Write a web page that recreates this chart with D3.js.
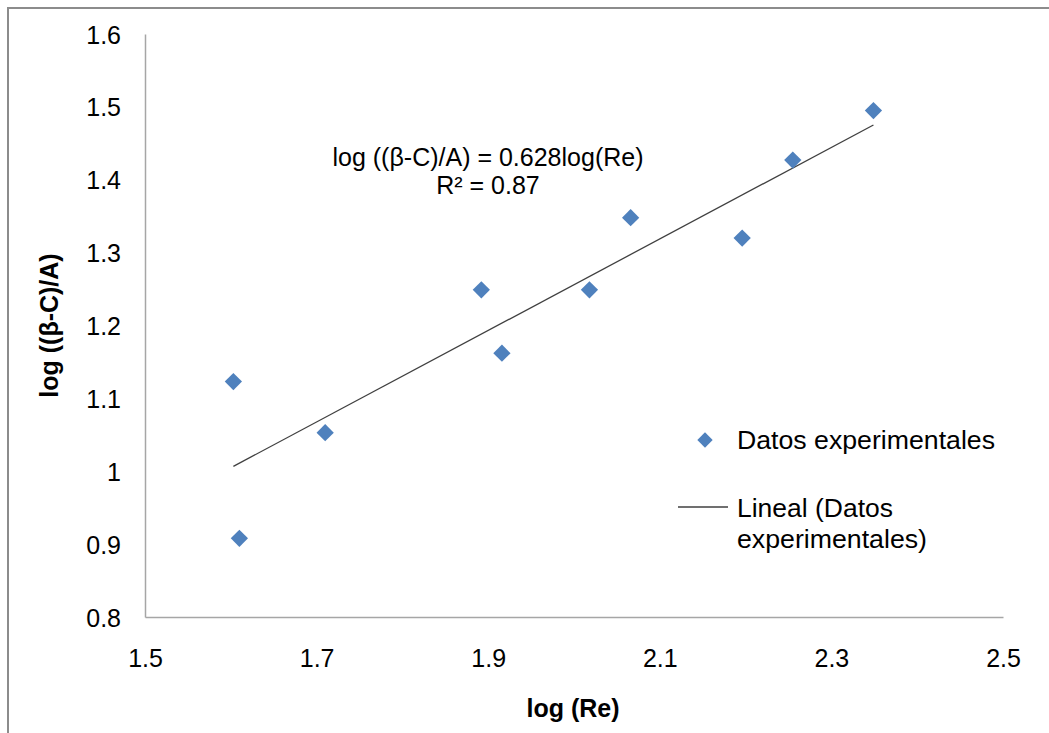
<!DOCTYPE html>
<html>
<head>
<meta charset="utf-8">
<script src="https://cdn.jsdelivr.net/npm/d3@7"></script>
<style>
  body { margin: 0; background: #fff; }
  text { font-family: "Liberation Sans", Arial, sans-serif; fill: #000; }
</style>
</head>
<body>
<script>
const WIDTH = 1049;
const HEIGHT = 733;

var logRe = [1.603, 1.610, 1.710, 1.892, 1.916, 2.018, 2.066, 2.196, 2.255, 2.349];
var logBeta = [1.123, 0.908, 1.053, 1.249, 1.162, 1.249, 1.348, 1.320, 1.427, 1.495];
var SLOPE = 0.628;
var xTicks = [1.5, 1.7, 1.9, 2.1, 2.3, 2.5];
var yTicks = [0.8, 0.9, 1.0, 1.1, 1.2, 1.3, 1.4, 1.5, 1.6];

var margin = { left: 145, right: 46, top: 34, bottom: 116 };

//DEFINE scales
var xScale = d3.scaleLinear().domain([1.5, 2.5]).range([margin.left, WIDTH - margin.right]);
var yScale = d3.scaleLinear().domain([0.8, 1.6]).range([HEIGHT - margin.bottom, margin.top]);

var svg = d3.select("body").append("svg")
  .attr("width", WIDTH)
  .attr("height", HEIGHT);

//outer chart border (cut by the picture edges)
svg.append("path")
  .attr("d", "M8," + HEIGHT + "V8H" + WIDTH)
  .attr("fill", "none")
  .attr("stroke", "#8c8c8c")
  .attr("stroke-width", 2);

//axes
var xAxis = svg.append("g")
  .attr("transform", "translate(0," + yScale(0.8) + ")")
  .call(d3.axisBottom(xScale).tickValues(xTicks).tickSize(0).tickPadding(50).tickFormat(d3.format(".1f")));
var yAxis = svg.append("g")
  .attr("transform", "translate(" + xScale(1.5) + ",0)")
  .call(d3.axisLeft(yScale).tickValues(yTicks).tickSize(0).tickPadding(24)
    .tickFormat(d => d === 1 ? "1" : d3.format(".1f")(d)));

[xAxis, yAxis].forEach(function (g) {
  g.select(".domain").attr("stroke", "#a6a6a6").attr("stroke-width", 1.5);
  g.selectAll("text")
    .attr("font-size", "25px")
    .attr("font-family", "Liberation Sans, Arial, sans-serif")
    .attr("fill", "#000");
});
yAxis.selectAll("text").attr("dy", "0.36em");
xAxis.selectAll("text").attr("dy", "0em");

//trend line y = 0.628 x
var xMin = d3.min(logRe), xMax = d3.max(logRe);
svg.append("line")
  .attr("x1", xScale(xMin)).attr("y1", yScale(SLOPE * xMin))
  .attr("x2", xScale(xMax)).attr("y2", yScale(SLOPE * xMax))
  .attr("stroke", "#404040")
  .attr("stroke-width", 1.3);

//points
var diamond = d3.symbol().type(d3.symbolDiamond2).size(190);
svg.selectAll("path.pt")
  .data(logRe)
  .enter()
  .append("path")
  .attr("class", "pt")
  .attr("d", diamond)
  .attr("transform", (d, i) => "translate(" + xScale(d) + "," + yScale(logBeta[i]) + ")")
  .attr("fill", "#4f81bd");

//equation
svg.append("text")
  .attr("x", 488).attr("y", 166)
  .attr("text-anchor", "middle")
  .attr("font-size", "25px")
  .text("log ((β-C)/A) = 0.628log(Re)");
svg.append("text")
  .attr("x", 488).attr("y", 194)
  .attr("text-anchor", "middle")
  .attr("font-size", "25px")
  .text("R² = 0.87");

//axis titles
svg.append("text")
  .attr("x", 573).attr("y", 717)
  .attr("text-anchor", "middle")
  .attr("font-size", "25px")
  .attr("font-weight", "bold")
  .text("log (Re)");
svg.append("text")
  .attr("transform", "translate(58," + (yScale(1.2)) + ") rotate(-90)")
  .attr("text-anchor", "middle")
  .attr("font-size", "25px")
  .attr("font-weight", "bold")
  .text("log ((β-C)/A)");

//legend
var legend = svg.append("g");
legend.append("path")
  .attr("d", d3.symbol().type(d3.symbolDiamond2).size(150))
  .attr("transform", "translate(705,440)")
  .attr("fill", "#4f81bd");
legend.append("text")
  .attr("x", 737).attr("y", 449)
  .attr("font-size", "25px")
  .attr("textLength", 258)
  .attr("lengthAdjust", "spacingAndGlyphs")
  .text("Datos experimentales");
legend.append("line")
  .attr("x1", 678).attr("x2", 728)
  .attr("y1", 507).attr("y2", 507)
  .attr("stroke", "#404040")
  .attr("stroke-width", 1.3);
legend.append("text")
  .attr("x", 737).attr("y", 517)
  .attr("font-size", "25px")
  .attr("textLength", 156)
  .attr("lengthAdjust", "spacingAndGlyphs")
  .text("Lineal (Datos");
legend.append("text")
  .attr("x", 737).attr("y", 548)
  .attr("font-size", "25px")
  .attr("textLength", 190)
  .attr("lengthAdjust", "spacingAndGlyphs")
  .text("experimentales)");
</script>
</body>
</html>
